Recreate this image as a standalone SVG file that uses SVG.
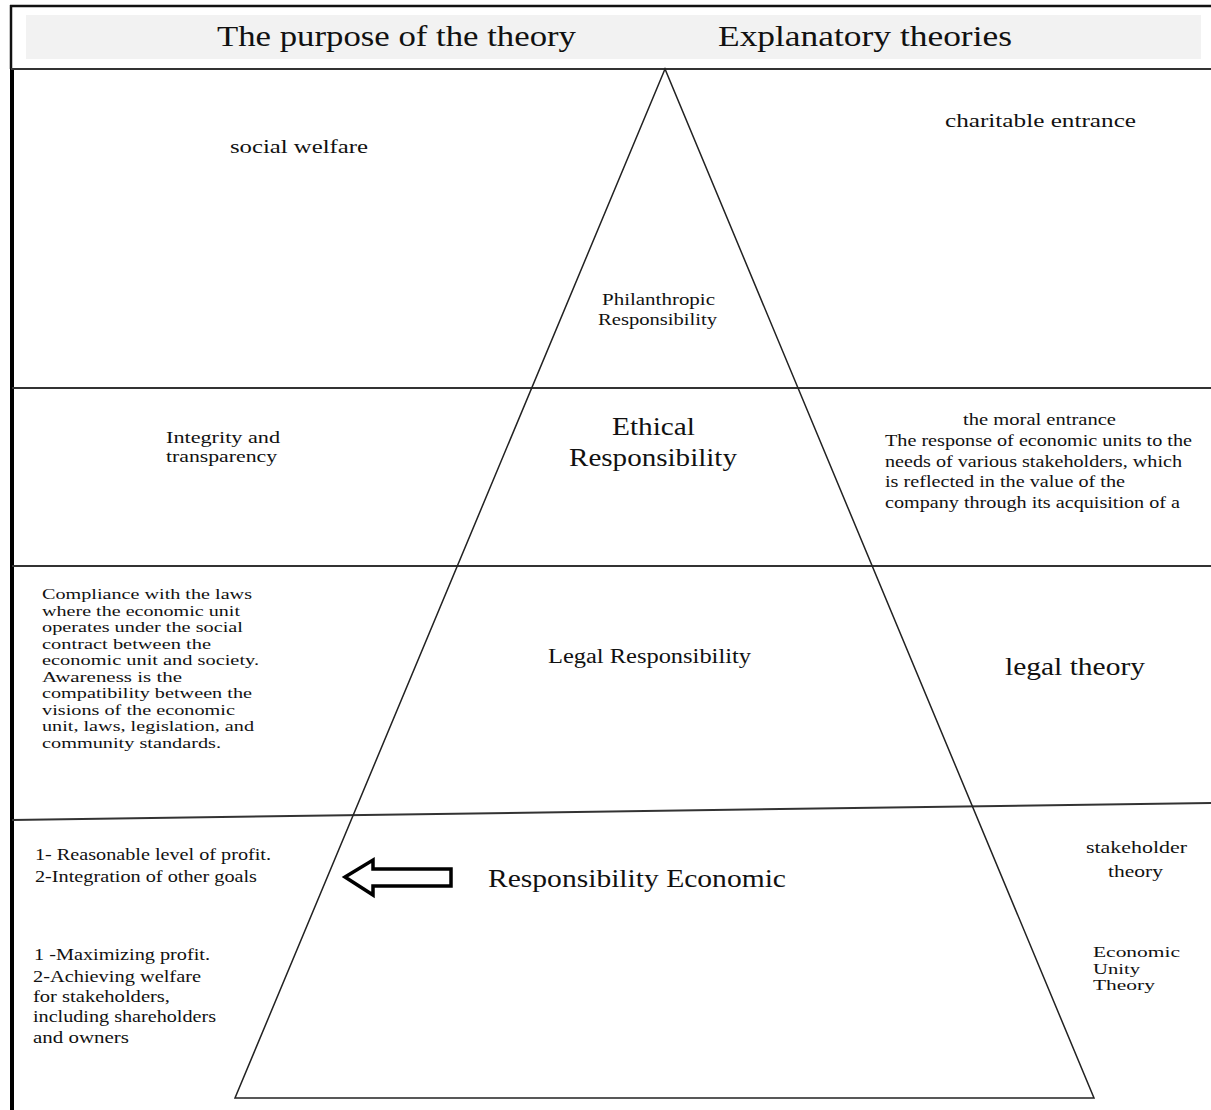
<svg xmlns="http://www.w3.org/2000/svg" width="1211" height="1110" viewBox="0 0 1211 1110">
<style>
text{font-family:"Liberation Serif","Times New Roman",serif;fill:#111}
.ln{stroke:#333;stroke-width:2;fill:none}
.tri{stroke:#222;stroke-width:1.5;fill:none}
</style>
<rect width="1211" height="1110" fill="#fff"/>
<g id="frame">
<rect x="26" y="15" width="1175" height="44" fill="#f2f2f2"/>
<line x1="10" y1="6" x2="1211" y2="6" stroke="#111" stroke-width="2.5"/>
<line x1="11" y1="5" x2="11" y2="69" stroke="#111" stroke-width="2.5"/>
<line x1="12" y1="69" x2="12" y2="1110" stroke="#000" stroke-width="4"/>
<line class="ln" x1="11" y1="69" x2="1211" y2="69"/>
<line class="ln" x1="12" y1="388" x2="1211" y2="388"/>
<line class="ln" x1="12" y1="566" x2="1211" y2="566"/>
<line class="ln" x1="12" y1="820" x2="1211" y2="803"/>
</g>
<g id="header">
<text x="217" y="46" font-size="30" textLength="359" lengthAdjust="spacingAndGlyphs">The purpose of the theory</text>
<text x="718" y="46" font-size="30" textLength="294" lengthAdjust="spacingAndGlyphs">Explanatory theories</text>
</g>
<g id="pyramid">
<polygon class="tri" points="665,69 235,1098 1094,1098"/>
</g>
<g id="philanthropic" font-size="16">
<text x="602" y="305" textLength="113" lengthAdjust="spacingAndGlyphs">Philanthropic</text>
<text x="598" y="325" textLength="119" lengthAdjust="spacingAndGlyphs">Responsibility</text>
</g>
<g id="ethical" font-size="25">
<text x="612" y="435" textLength="83" lengthAdjust="spacingAndGlyphs">Ethical</text>
<text x="569" y="466" textLength="168" lengthAdjust="spacingAndGlyphs">Responsibility</text>
</g>
<g id="legal">
<text x="548" y="663" font-size="20" textLength="203" lengthAdjust="spacingAndGlyphs">Legal Responsibility</text>
</g>
<g id="economic">
<text x="488" y="887" font-size="25" textLength="298" lengthAdjust="spacingAndGlyphs">Responsibility Economic</text>
</g>
<g id="left-texts" font-size="16">
<text x="230" y="153" font-size="19" textLength="138" lengthAdjust="spacingAndGlyphs">social welfare</text>
<text x="166" y="443" textLength="114" lengthAdjust="spacingAndGlyphs">Integrity and</text>
<text x="166" y="462" textLength="111" lengthAdjust="spacingAndGlyphs">transparency</text>
<g font-size="14.8">
<text x="42" y="599" textLength="210" lengthAdjust="spacingAndGlyphs">Compliance with the laws</text>
<text x="42" y="615.5" textLength="198" lengthAdjust="spacingAndGlyphs">where the economic unit</text>
<text x="42" y="632" textLength="201" lengthAdjust="spacingAndGlyphs">operates under the social</text>
<text x="42" y="648.5" textLength="169" lengthAdjust="spacingAndGlyphs">contract between the</text>
<text x="42" y="665" textLength="217" lengthAdjust="spacingAndGlyphs">economic unit and society.</text>
<text x="42" y="681.5" textLength="140" lengthAdjust="spacingAndGlyphs">Awareness is the</text>
<text x="42" y="698" textLength="210" lengthAdjust="spacingAndGlyphs">compatibility between the</text>
<text x="42" y="714.5" textLength="193" lengthAdjust="spacingAndGlyphs">visions of the economic</text>
<text x="42" y="731" textLength="212" lengthAdjust="spacingAndGlyphs">unit, laws, legislation, and</text>
<text x="42" y="747.5" textLength="179" lengthAdjust="spacingAndGlyphs">community standards.</text>
</g>
<text x="35" y="860" textLength="236" lengthAdjust="spacingAndGlyphs">1- Reasonable level of profit.</text>
<text x="35" y="882" textLength="222" lengthAdjust="spacingAndGlyphs">2-Integration of other goals</text>
<text x="34" y="960" textLength="176" lengthAdjust="spacingAndGlyphs">1 -Maximizing profit.</text>
<text x="33" y="982" textLength="168" lengthAdjust="spacingAndGlyphs">2-Achieving welfare</text>
<text x="33" y="1002" textLength="137" lengthAdjust="spacingAndGlyphs">for stakeholders,</text>
<text x="33" y="1022" textLength="183" lengthAdjust="spacingAndGlyphs">including shareholders</text>
<text x="33" y="1043" textLength="96" lengthAdjust="spacingAndGlyphs">and owners</text>
</g>
<g id="right-texts" font-size="16">
<text x="945" y="127" font-size="18" textLength="191" lengthAdjust="spacingAndGlyphs">charitable entrance</text>
<text x="963" y="425" textLength="153" lengthAdjust="spacingAndGlyphs">the moral entrance</text>
<text x="885" y="446" textLength="307" lengthAdjust="spacingAndGlyphs">The response of economic units to the</text>
<text x="885" y="467" textLength="297" lengthAdjust="spacingAndGlyphs">needs of various stakeholders, which</text>
<text x="885" y="487" textLength="240" lengthAdjust="spacingAndGlyphs">is reflected in the value of the</text>
<text x="885" y="508" textLength="295" lengthAdjust="spacingAndGlyphs">company through its acquisition of a</text>
<text x="1005" y="675" font-size="25" textLength="140" lengthAdjust="spacingAndGlyphs">legal theory</text>
<text x="1086" y="853" font-size="17" textLength="101" lengthAdjust="spacingAndGlyphs">stakeholder</text>
<text x="1108" y="877" font-size="17" textLength="55" lengthAdjust="spacingAndGlyphs">theory</text>
<g font-size="15">
<text x="1093" y="957" textLength="87" lengthAdjust="spacingAndGlyphs">Economic</text>
<text x="1093" y="973.5" textLength="47" lengthAdjust="spacingAndGlyphs">Unity</text>
<text x="1093" y="990" textLength="62" lengthAdjust="spacingAndGlyphs">Theory</text>
</g>
</g>
<g id="connectors">
<polygon points="345,877 373,860 373,869 451,869 451,886 373,886 373,895" fill="#fff" stroke="#000" stroke-width="3.5" stroke-linejoin="miter"/>
</g>
</svg>
